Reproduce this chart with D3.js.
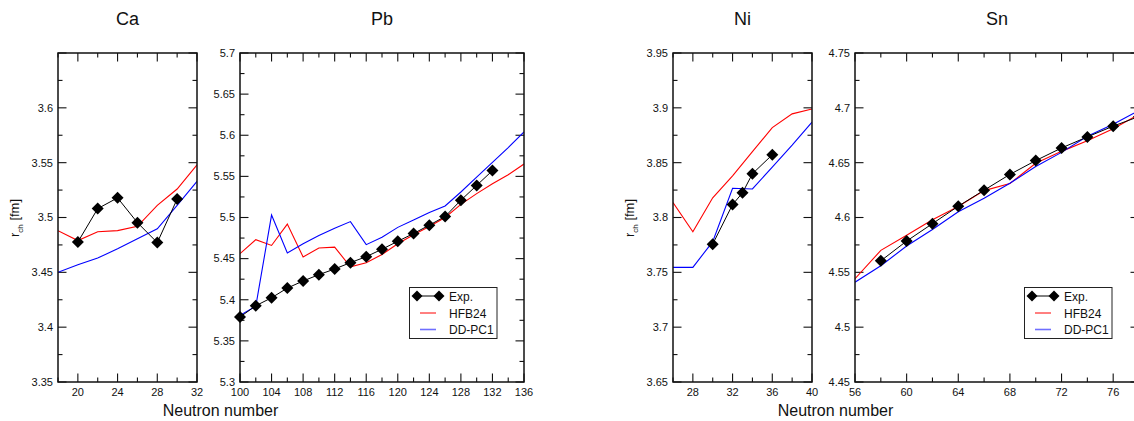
<!DOCTYPE html>
<meta charset="utf-8">
<script src="https://d3js.org/d3.v7.min.js"></script>
<style>
  body { margin: 0; background: #fff; }
  text { font-family: "Liberation Sans", Arial, Helvetica, sans-serif; fill: #111; }
</style>
<div id="chart"></div>
<script>
  // ---- data (charge radii in fm) ----
  var caN = [18, 20, 22, 24, 26, 28, 30, 32];
  var caHfb = [3.488, 3.479, 3.487, 3.488, 3.492, 3.511, 3.526, 3.548];
  var caDd = [3.450, 3.457, 3.463, 3.4715, 3.4806, 3.4897, 3.511, 3.533];
  var caExpN = [20, 22, 24, 26, 28, 30];
  var caExp = [3.4776, 3.5081, 3.5179, 3.4953, 3.4771, 3.5168];

  var pbN = [100, 102, 104, 106, 108, 110, 112, 114, 116, 118, 120, 122, 124, 126, 128, 130, 132, 134, 136];
  var pbHfb = [5.456, 5.473, 5.466, 5.492, 5.452, 5.463, 5.464, 5.440, 5.445, 5.455, 5.468, 5.479, 5.489, 5.500, 5.516, 5.529, 5.541, 5.552, 5.565];
  var pbDd = [5.381, 5.392, 5.503, 5.457, 5.468, 5.478, 5.487, 5.495, 5.467, 5.476, 5.488, 5.497, 5.506, 5.514, 5.531, 5.549, 5.567, 5.585, 5.604];
  var pbExpN = [100, 102, 104, 106, 108, 110, 112, 114, 116, 118, 120, 122, 124, 126, 128, 130, 132];
  var pbExp = [5.379, 5.3927, 5.4024, 5.4142, 5.4228, 5.4305, 5.4374, 5.4451, 5.4524, 5.4614, 5.4711, 5.4805, 5.4907, 5.5012, 5.521, 5.539, 5.557];

  var niN = [26, 28, 30, 32, 34, 36, 38, 40];
  var niHfb = [3.8136, 3.787, 3.818, 3.838, 3.860, 3.882, 3.8945, 3.899];
  var niDd = [3.7545, 3.7545, 3.778, 3.8267, 3.826, 3.846, 3.866, 3.887];
  var niExpN = [30, 32, 33, 34, 36];
  var niExp = [3.7757, 3.8118, 3.8225, 3.8399, 3.8572];

  var snN = [56, 58, 60, 62, 64, 66, 68, 70, 72, 74, 76, 78];
  var snHfb = [4.5442, 4.570, 4.5838, 4.598, 4.610, 4.6245, 4.631, 4.6495, 4.6603, 4.670, 4.681, 4.694];
  var snDd = [4.541, 4.556, 4.574, 4.589, 4.6052, 4.6175, 4.6312, 4.6465, 4.6594, 4.674, 4.685, 4.6977];
  var snExpN = [58, 60, 62, 64, 66, 68, 70, 72, 74, 76, 78];
  var snExp = [4.5605, 4.5785, 4.5944, 4.6103, 4.6249, 4.6393, 4.6519, 4.6634, 4.6735, 4.6833, 4.6921];

  var legendLabels = ["Exp.", "HFB24", "DD-PC1"];

  // ---- layout ----
  var plotTop = 53, plotBottom = 382;
  var panels = [
    { name: "Ca", x0: 58, x1: 197, xd: [18, 32], yd: [3.35, 3.65], xt: [20, 24, 28, 32], yt: [3.35, 3.4, 3.45, 3.5, 3.55, 3.6],
      N: caN, hfb: caHfb, dd: caDd, eN: caExpN, e: caExp, ylabel: true },
    { name: "Pb", x0: 240, x1: 524, xd: [100, 136], yd: [5.3, 5.7], xt: d3.range(100, 137, 4), yt: [5.3, 5.35, 5.4, 5.45, 5.5, 5.55, 5.6, 5.65, 5.7],
      N: pbN, hfb: pbHfb, dd: pbDd, eN: pbExpN, e: pbExp, legend: true },
    { name: "Ni", x0: 673, x1: 812, xd: [26, 40], yd: [3.65, 3.95], xt: [28, 32, 36, 40], yt: [3.65, 3.7, 3.75, 3.8, 3.85, 3.9, 3.95],
      N: niN, hfb: niHfb, dd: niDd, eN: niExpN, e: niExp, ylabel: true },
    { name: "Sn", x0: 855, x1: 1139, xd: [56, 78], yd: [4.45, 4.75], xt: d3.range(56, 77, 4), yt: [4.45, 4.5, 4.55, 4.6, 4.65, 4.7, 4.75],
      N: snN, hfb: snHfb, dd: snDd, eN: snExpN, e: snExp, legend: true }
  ];

  var svg = d3.select("#chart").append("svg")
    .attr("width", 1134)
    .attr("height", 421);

  var diamond = function (r) { return "M0," + (-r) + "L" + r + ",0L0," + r + "L" + (-r) + ",0Z"; };
  var fmt = function (v) { return d3.format(".2f")(v).replace(/0$/, "").replace(/\.0$/, ""); };

  panels.forEach(function (p, pi) {
    var x = d3.scaleLinear().domain(p.xd).range([p.x0, p.x1]);
    var y = d3.scaleLinear().domain(p.yd).range([plotBottom, plotTop]);

    var g = svg.append("g");

    // clip
    svg.append("clipPath").attr("id", "clip" + pi)
      .append("rect").attr("x", p.x0).attr("y", plotTop).attr("width", p.x1 - p.x0).attr("height", plotBottom - plotTop);

    // minor/major ticks on all four sides, pointing inward
    var xMinor = d3.range(p.xd[0], p.xd[1] + 0.01, 2);
    var yMinor = d3.range(0, Math.round((p.yd[1] - p.yd[0]) / 0.025) + 1).map(function (i) { return p.yd[0] + i * 0.025; });
    var isMajX = function (v) { return (v - p.xt[0]) % 4 === 0; };
    var isMajY = function (i) { return i % 2 === 0; };

    xMinor.forEach(function (v) {
      var len = isMajX(v) ? 8.5 : 4.5;
      g.append("line").attr("x1", x(v)).attr("x2", x(v)).attr("y1", plotBottom).attr("y2", plotBottom - len)
        .attr("stroke", "#111").attr("stroke-width", 1.1);
      g.append("line").attr("x1", x(v)).attr("x2", x(v)).attr("y1", plotTop).attr("y2", plotTop + len)
        .attr("stroke", "#111").attr("stroke-width", 1.1);
    });
    yMinor.forEach(function (v, i) {
      var len = isMajY(i) ? 8.5 : 4.5;
      g.append("line").attr("x1", p.x0).attr("x2", p.x0 + len).attr("y1", y(v)).attr("y2", y(v))
        .attr("stroke", "#111").attr("stroke-width", 1.1);
      g.append("line").attr("x1", p.x1).attr("x2", p.x1 - len).attr("y1", y(v)).attr("y2", y(v))
        .attr("stroke", "#111").attr("stroke-width", 1.1);
    });

    // tick labels
    g.selectAll(".xl").data(p.xt).enter().append("text")
      .attr("x", function (d) { return x(d); })
      .attr("y", plotBottom + 14)
      .attr("text-anchor", "middle")
      .style("font-size", "11px")
      .text(function (d) { return d; });
    g.selectAll(".yl").data(p.yt).enter().append("text")
      .attr("x", p.x0 - 5)
      .attr("y", function (d) { return y(d); })
      .attr("dy", "0.35em")
      .attr("text-anchor", "end")
      .style("font-size", "11px")
      .text(function (d) { return fmt(d); });

    // curves
    var line = d3.line().x(function (d) { return x(d[0]); }).y(function (d) { return y(d[1]); });
    var lines = g.append("g").attr("clip-path", "url(#clip" + pi + ")");
    lines.append("path").datum(p.N.map(function (n, i) { return [n, p.hfb[i]]; }))
      .attr("d", line).attr("fill", "none").attr("stroke", "#ff0000").attr("stroke-width", 1.1);
    lines.append("path").datum(p.N.map(function (n, i) { return [n, p.dd[i]]; }))
      .attr("d", line).attr("fill", "none").attr("stroke", "#0000ff").attr("stroke-width", 1.1);
    var exp = p.eN.map(function (n, i) { return [n, p.e[i]]; });
    lines.append("path").datum(exp)
      .attr("d", line).attr("fill", "none").attr("stroke", "#000").attr("stroke-width", 1);

    // frame
    g.append("rect").attr("x", p.x0).attr("y", plotTop).attr("width", p.x1 - p.x0).attr("height", plotBottom - plotTop)
      .attr("fill", "none").attr("stroke", "#111").attr("stroke-width", 1.5);

    // experimental points (drawn over the frame, not clipped)
    g.selectAll(".pt").data(exp).enter().append("path")
      .attr("d", diamond(6))
      .attr("transform", function (d) { return "translate(" + x(d[0]) + "," + y(d[1]) + ")"; })
      .attr("fill", "#000");

    // title
    svg.append("text")
      .attr("x", (p.x0 + p.x1) / 2)
      .attr("y", 25)
      .attr("text-anchor", "middle")
      .style("font-size", "18px")
      .text(p.name);

    // y label
    if (p.ylabel) {
      var t = svg.append("text")
        .attr("transform", "translate(" + (p.x0 - 39) + ",218)rotate(-90)")
        .attr("text-anchor", "middle")
        .style("font-size", "13px");
      t.append("tspan").text("r");
      t.append("tspan").attr("dy", 4).style("font-size", "8px").text("ch");
      t.append("tspan").attr("dy", -4).text(" [fm]");
    }

    // legend
    if (p.legend) {
      var lx = p.x0 + 169.5, ly = 287.5;
      var lg = svg.append("g").attr("transform", "translate(" + lx + "," + ly + ")");
      lg.append("rect").attr("width", 87.5).attr("height", 51)
        .attr("fill", "#fff").attr("stroke", "#222").attr("stroke-width", 1);
      var rows = [8.5, 25.5, 42];
      lg.append("line").attr("x1", 7).attr("x2", 30).attr("y1", rows[0]).attr("y2", rows[0]).attr("stroke", "#000");
      [7.5, 29.5].forEach(function (cx) {
        lg.append("path").attr("d", diamond(5.5)).attr("transform", "translate(" + cx + "," + rows[0] + ")").attr("fill", "#000");
      });
      lg.append("line").attr("x1", 10.5).attr("x2", 26.5).attr("y1", rows[1]).attr("y2", rows[1]).attr("stroke", "#ff0000");
      lg.append("line").attr("x1", 10.5).attr("x2", 26.5).attr("y1", rows[2]).attr("y2", rows[2]).attr("stroke", "#6f6fff").attr("stroke-width", 1.6);
      legendLabels.forEach(function (s, i) {
        lg.append("text").attr("x", 39.5).attr("y", rows[i] + 4.5).style("font-size", "12px").text(s);
      });
    }
  });

  // x axis labels
  [220.5, 835.5].forEach(function (cx) {
    svg.append("text")
      .attr("x", cx)
      .attr("y", 416)
      .attr("text-anchor", "middle")
      .style("font-size", "16px")
      .text("Neutron number");
  });
</script>
